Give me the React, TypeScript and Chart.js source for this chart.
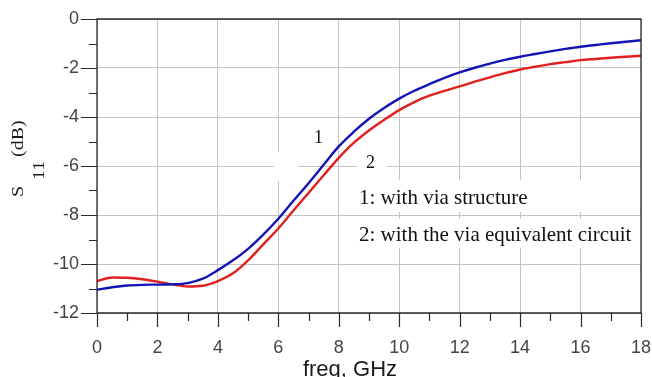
import React, { useEffect, useRef } from 'react';
import { Chart, registerables } from 'chart.js';

Chart.register(...registerables);

// ---- data ----
const freq = [0, 0.5, 1, 1.5, 2, 2.5, 3, 3.5, 4, 4.5, 5, 5.5, 6, 6.5, 7, 7.5, 8, 8.5, 9, 9.5, 10, 10.5, 11, 11.5, 12, 12.5, 13, 13.5, 14, 14.5, 15, 15.5, 16, 16.5, 17, 17.5, 18];
const s11Via = [-11.05, -10.95, -10.88, -10.85, -10.84, -10.83, -10.78, -10.6, -10.25, -9.85, -9.38, -8.8, -8.15, -7.42, -6.7, -5.95, -5.2, -4.6, -4.07, -3.63, -3.25, -2.93, -2.66, -2.4, -2.18, -1.99, -1.82, -1.67, -1.54, -1.43, -1.32, -1.22, -1.13, -1.06, -0.99, -0.93, -0.87];
const s11Equiv = [-10.7, -10.55, -10.56, -10.62, -10.72, -10.83, -10.92, -10.89, -10.7, -10.38, -9.85, -9.2, -8.55, -7.82, -7.1, -6.38, -5.67, -5.05, -4.55, -4.12, -3.72, -3.39, -3.13, -2.93, -2.75, -2.56, -2.38, -2.21, -2.06, -1.95, -1.84, -1.76, -1.68, -1.63, -1.58, -1.54, -1.5];
const xTickValues = [0, 2, 4, 6, 8, 10, 12, 14, 16, 18];
const yTickValues = [0, -2, -4, -6, -8, -10, -12];
const curveLabels = ['1', '2'];
const legendLines = ['1: with via structure', '2: with the via equivalent circuit'];
const xTitle = 'freq, GHz';
const yTitleMain = 'S';
const yTitleSub = '11';
const yTitleUnit = '(dB)';

const AXIS = '#2a2a2a';
const SERIF = '"Liberation Serif", "Times New Roman", serif';
const SANS = '"Liberation Sans", Arial, sans-serif';

const overlay = {
  id: 'overlay',
  beforeDatasetsDraw(chart: any) {
    const ctx = chart.ctx;
    ctx.save();
    ctx.fillStyle = '#ffffff';
    // white label backgrounds
    ctx.fillRect(274, 152, 24, 29);
    ctx.fillRect(357, 150, 30, 28);
    ctx.fillRect(355, 180, 283, 32);
    ctx.fillRect(355, 219, 283, 29);
    ctx.restore();
  },
  afterDraw(chart: any) {
    const ctx = chart.ctx;
    const xs = chart.scales.x;
    const ys = chart.scales.y;
    const { left, right, top, bottom } = chart.chartArea;
    ctx.save();
    // frame
    ctx.strokeStyle = AXIS;
    ctx.lineWidth = 1.3;
    ctx.beginPath();
    ctx.rect(left, top, right - left, bottom - top);
    ctx.stroke();
    // ticks
    ctx.lineWidth = 1.2;
    ctx.beginPath();
    for (let v = -12; v <= 0; v += 1) {
      const y = Math.round(ys.getPixelForValue(v)) + 0.5;
      const len = v % 2 === 0 ? 16 : 8;
      ctx.moveTo(left - len, y);
      ctx.lineTo(left, y);
    }
    for (let v = 0; v <= 18; v += 1) {
      const x = Math.round(xs.getPixelForValue(v)) + 0.5;
      const len = v % 2 === 0 ? 14 : 8;
      ctx.moveTo(x, bottom);
      ctx.lineTo(x, bottom + len);
    }
    ctx.stroke();

    // x title
    ctx.fillStyle = '#1a1a1a';
    ctx.font = '22px ' + SANS;
    ctx.textAlign = 'center';
    ctx.textBaseline = 'alphabetic';
    ctx.fillText(xTitle, 350, 376);

    // y title (rotated)
    ctx.save();
    ctx.translate(23, 197);
    ctx.rotate(-Math.PI / 2);
    ctx.scale(1, 0.8);
    ctx.font = '20px ' + SERIF;
    ctx.textAlign = 'left';
    ctx.fillStyle = '#1a1a1a';
    ctx.fillText(yTitleMain, 0, 0);
    ctx.fillText(yTitleSub, 17, 26);
    ctx.fillText(yTitleUnit, 40, 0);
    ctx.restore();

    // curve labels
    ctx.fillStyle = '#111';
    ctx.textAlign = 'left';
    ctx.font = '18px ' + SERIF;
    ctx.fillText(curveLabels[0], 314, 143);
    ctx.fillText(curveLabels[1], 366, 168);

    // legend text
    ctx.font = '21px ' + SERIF;
    ctx.fillText(legendLines[0], 359, 204);
    ctx.fillText(legendLines[1], 359, 241);
    ctx.restore();
  },
};

export default function App() {
  const ref = useRef<HTMLCanvasElement | null>(null);
  useEffect(() => {
    if (!ref.current) return;
    const chart = new Chart(ref.current, {
      type: 'line',
      data: {
        datasets: [
          {
            label: legendLines[0],
            data: freq.map((f, i) => ({ x: f, y: s11Via[i] })),
            borderColor: '#1414b4',
            borderWidth: 2.4,
            pointRadius: 0,
            cubicInterpolationMode: 'monotone',
          },
          {
            label: legendLines[1],
            data: freq.map((f, i) => ({ x: f, y: s11Equiv[i] })),
            borderColor: '#e0201c',
            borderWidth: 2.4,
            pointRadius: 0,
            cubicInterpolationMode: 'monotone',
          },
        ],
      },
      options: {
        animation: false,
        responsive: false,
        layout: { padding: { top: 19, right: 11, left: 0, bottom: 0 } },
        plugins: { legend: { display: false }, tooltip: { enabled: false } },
        scales: {
          x: {
            type: 'linear',
            min: 0,
            max: 18,
            afterBuildTicks: (s: any) => {
              s.ticks = xTickValues.map((v) => ({ value: v }));
            },
            afterFit: (s: any) => {
              s.height = 64;
              s.paddingLeft = 0;
              s.paddingRight = 0;
            },
            ticks: {
              font: { size: 18, family: SANS },
              color: '#444',
              padding: 24,
              maxRotation: 0,
              autoSkip: false,
            },
            grid: { color: '#c4c4c4', lineWidth: 1, drawTicks: false },
            border: { display: false },
          },
          y: {
            type: 'linear',
            min: -12,
            max: 0,
            afterBuildTicks: (s: any) => {
              s.ticks = yTickValues.map((v) => ({ value: v }));
            },
            afterFit: (s: any) => {
              s.width = 97;
              s.paddingTop = 0;
              s.paddingBottom = 0;
            },
            ticks: {
              font: { size: 18, family: SANS },
              color: '#444',
              padding: 18,
              autoSkip: false,
            },
            grid: { color: '#c4c4c4', lineWidth: 1, drawTicks: false },
            border: { display: false },
          },
        },
      },
      plugins: [overlay],
    } as any);
    return () => chart.destroy();
  }, []);
  return (
    <div style={{ position: 'absolute', left: 0, top: 0, width: 652, height: 377, background: '#fff' }}>
      <canvas ref={ref} width={652} height={377} />
    </div>
  );
}
